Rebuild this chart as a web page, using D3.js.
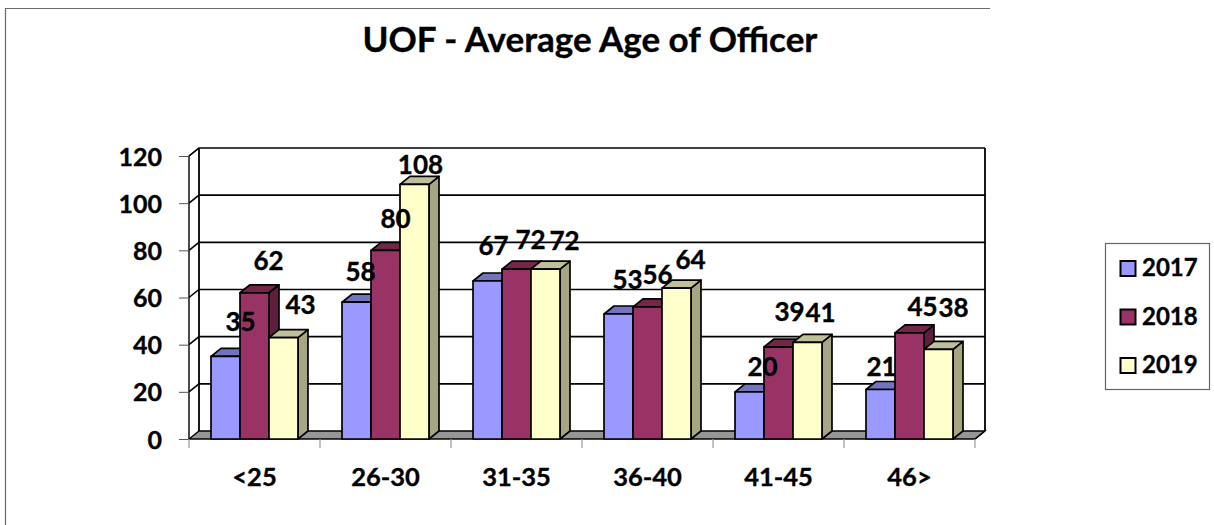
<!DOCTYPE html>
<html><head><meta charset="utf-8">
<script src="https://cdn.jsdelivr.net/npm/d3@7"></script>
<style>html,body{margin:0;background:#fff}svg{display:block}text{font-family:Lato,"Open Sans",sans-serif;font-weight:700;fill:#000;stroke:#000;stroke-width:.35px}</style>
</head><body><svg id="c" width="1214" height="525"></svg>
<script>
const categories = ["<25","26-30","31-35","36-40","41-45","46>"];
const seriesNames = ["2017","2018","2019"];
const v2017 = [35,58,67,53,20,21];
const v2018 = [62,80,72,56,39,45];
const v2019 = [43,108,72,64,41,38];
const yTicks = [0,20,40,60,80,100,120];
const title = "UOF - Average Age of Officer";
const values = [v2017,v2018,v2019];
const front = ["#9999ff","#993366","#ffffcc"];
const topC = ["#7373bf","#732645","#bfbf99"];
const side = ["#5c5c99","#5c1f3d","#a6a685"];
// hand-placed label offsets from each bar's top centre, per category then series
const nudgeX = [[15,14,17],[4,10,6],[6,14,19],[9,10,14],[13,11,13],[1,13,15]];
const nudgeY = [[-25,-23,-24],[-21,-22,-10],[-26,-20,-19],[-25,-23,-19],[-16,-26,-20],[-13,-17,-32]];

const svg = d3.select("#c");
const dx = 10, dy = -8;
const x0 = d3.scaleBand().domain(categories).range([189,975]);
const x1 = d3.scaleBand().domain(seriesNames).range([0,x0.bandwidth()]).paddingOuter(0.759).paddingInner(0);
const y = d3.scaleLinear().domain([0,120]).range([439,156]);

// outer frame
svg.append("path").attr("d","M5.5,525V8.5H990").attr("fill","none").attr("stroke","#6b6b6b").attr("stroke-width",1.2);

// floor
const L=x0.range()[0], R=x0.range()[1], B=y(0), T=y(120);
svg.append("path").attr("d",`M${L},${B}L${L+dx},${B+dy}H${R+dx}L${R},${B}Z`).attr("fill","#969696").attr("stroke","#000").attr("stroke-width",1.3);
// walls + gridlines
const g = svg.append("g").attr("fill","none").attr("stroke","#000");
g.selectAll("path.grid").data(yTicks.filter(t=>t>0)).join("path").attr("class","grid")
  .attr("stroke-width",1.6).attr("d",t=>`M${L},${y(t)}L${L+dx},${y(t)+dy}H${R+dx}`);
g.append("path").attr("stroke-width",1.8).attr("d",`M${L+dx},${B+dy}V${T+dy}M${R+dx},${B+dy}V${T+dy}`);
g.append("path").attr("stroke-width",1.4).attr("d",`M${L},${B}V${T}L${L+dx},${T+dy}M${R},${B}L${R+dx},${B+dy}`);

// axes
const yAxis = d3.axisLeft(y).tickValues(yTicks).tickSize(10).tickPadding(3);
const ya = svg.append("g").attr("transform",`translate(${L},0)`).call(yAxis);
ya.select(".domain").remove();
ya.selectAll("line").attr("stroke","#555");
ya.selectAll("text").style("font-size","25px").attr("dx",-14).attr("dy","0.36em");
const xAxis = d3.axisBottom(x0).tickSize(0).tickPadding(29);
const xa = svg.append("g").attr("transform",`translate(0,${B})`).call(xAxis);
xa.select(".domain").attr("stroke","#444").attr("d",`M${L},0.5H${R}`);
xa.selectAll("text").style("font-size","25.5px");
svg.append("g").selectAll("line").data(d3.range(categories.length+1)).join("line")
  .attr("x1",i=>L+i*x0.step()).attr("x2",i=>L+i*x0.step()).attr("y1",B).attr("y2",B+9).attr("stroke","#999").attr("stroke-width",1.2);

// bars
const flat = [];
categories.forEach((c,i)=>seriesNames.forEach((s,j)=>flat.push({c,s,i,j,v:values[j][i]})));
const bars = svg.append("g").attr("stroke","#000").attr("stroke-width",1.7).attr("stroke-linejoin","round");
flat.forEach(d=>{
  const a = x0(d.c)+x1(d.s), w = x1.bandwidth(), t = y(d.v);
  const b = bars.append("g");
  b.append("path").attr("fill",side[d.j]).attr("d",`M${a+w},${B}L${a+w+dx},${B+dy}V${t+dy}L${a+w},${t}Z`);
  b.append("path").attr("fill",topC[d.j]).attr("d",`M${a},${t}L${a+dx},${t+dy}H${a+w+dx}L${a+w},${t}Z`);
  b.append("rect").attr("x",a).attr("y",t).attr("width",w).attr("height",B-t).attr("fill",front[d.j]);
});
// value labels
svg.append("g").selectAll("text").data(flat).join("text")
  .attr("text-anchor","middle").style("font-size","26px")
  .attr("x",d=>x0(d.c)+x1(d.s)+x1.bandwidth()/2+nudgeX[d.i][d.j])
  .attr("y",d=>y(d.v)+nudgeY[d.i][d.j])
  .text(d=>d.v);

// title
svg.append("text").attr("x",590).attr("y",52).attr("text-anchor","middle").style("font-size","35px").text(title);

// legend
svg.append("rect").attr("x",1105.5).attr("y",243.5).attr("width",104).attr("height",146).attr("fill","#fff").attr("stroke","#666").attr("stroke-width",1.2);
const ly = d3.scalePoint().domain(seriesNames).range([268,365]);
const lg = svg.append("g").selectAll("g").data(seriesNames).join("g").attr("transform",d=>`translate(1120,${ly(d)})`);
lg.append("rect").attr("x",0.5).attr("y",-7).attr("width",15).attr("height",15).attr("fill",(d,i)=>front[i]).attr("stroke","#000").attr("stroke-width",2);
lg.append("text").attr("x",22).attr("y",8).style("font-size","24px").text(d=>d);
</script></body></html>
